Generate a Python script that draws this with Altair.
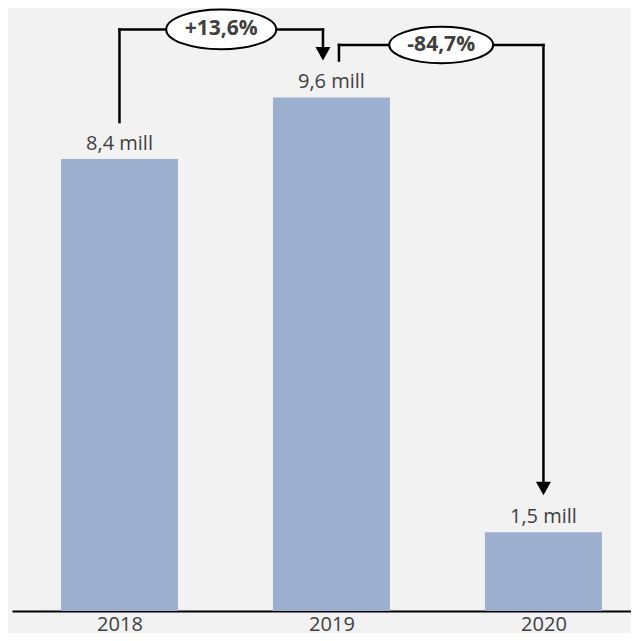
import json
import altair as alt
import pandas as pd

# ---- data ----
categories = ["2018", "2019", "2020"]
values = [8.44, 9.59, 1.47]          # million
value_labels = ["8,4 mill", "9,6 mill", "1,5 mill"]
change_labels = ["+13,6%", "-84,7%"]

# ---- styling constants ----
BG = "#F2F2F2"
BAR = "#9DAFCE"
TXT = "#404040"
FONT = "Open Sans"
GAP = 0.69          # vertical gap (data units) between bar top and bracket end
RISE1 = 1.27        # bracket 1 height above the higher bar
RISE2 = 0.98        # bracket 2 height above the higher bar
LW = 2.5

idx = list(range(len(categories)))
bars = pd.DataFrame({"i": idx, "cat": categories, "v": values, "lab": value_labels})

xscale = alt.Scale(domain=[-0.507, 2.413], nice=False, zero=False, padding=0)
yscale = alt.Scale(domain=[0, 11.26], nice=False, zero=True)
label_expr = json.dumps(categories) + "[datum.value]"

X = alt.X("i:Q", scale=xscale,
          axis=alt.Axis(values=idx, labelExpr=label_expr, title=None, grid=False,
                        ticks=False, tickSize=0, domainColor="black", domainWidth=2,
                        labelFontSize=20, labelColor=TXT, labelFont=FONT,
                        labelPadding=3))
Y = alt.Y("v:Q", scale=yscale, axis=None)

bar_layer = alt.Chart(bars).mark_bar(size=117, color=BAR).encode(x=X, y=Y)
lab_layer = alt.Chart(bars).mark_text(
    baseline="alphabetic", dy=-9, fontSize=20, color=TXT, font=FONT
).encode(x=alt.X("i:Q", scale=xscale), y=alt.Y("v:Q", scale=yscale), text="lab:N")

top1 = max(values[0], values[1]) + RISE1
top2 = max(values[1], values[2]) + RISE2


def xq(field):
    return alt.X(f"{field}:Q", scale=xscale)


def yq(field):
    return alt.Y(f"{field}:Q", scale=yscale)


def vrule(i, y_from, y_to, xoff=0.0, y2off=0.0):
    d = pd.DataFrame({"i": [i], "y1": [y_from], "y2": [y_to]})
    return alt.Chart(d).mark_rule(color="black", strokeWidth=LW, strokeCap="square",
                                  xOffset=xoff, y2Offset=y2off).encode(
        x=xq("i"), y=yq("y1"), y2=alt.Y2("y2:Q"))


def hrule(i1, i2, yv, xoff=0.0, x2off=0.0):
    d = pd.DataFrame({"i1": [i1], "i2": [i2], "y": [yv]})
    return alt.Chart(d).mark_rule(color="black", strokeWidth=LW, strokeCap="square",
                                  xOffset=xoff, x2Offset=x2off).encode(
        x=xq("i1"), x2=alt.X2("i2:Q"), y=yq("y"))


ARROW = "M -1 -1.8 L 1 -1.8 L 0 0 Z"


def arrow(i, yv, xoff=0.0):
    d = pd.DataFrame({"i": [i], "y": [yv]})
    return alt.Chart(d).mark_point(shape=ARROW, size=225, filled=True, color="black",
                                   strokeWidth=0, opacity=1, xOffset=xoff).encode(
        x=xq("i"), y=yq("y"))


def ellipse(xm, yv, text, width, ratio, xoff=0.0):
    d = pd.DataFrame({"i": [xm], "y": [yv], "t": [text]})
    shape = f"M -1 0 A 1 {ratio} 0 1 1 1 0 A 1 {ratio} 0 1 1 -1 0 Z"
    e = alt.Chart(d).mark_point(shape=shape, size=width * width, filled=False,
                                fill="white", fillOpacity=1, stroke="black",
                                strokeWidth=2, opacity=1, xOffset=xoff).encode(
        x=xq("i"), y=yq("y"))
    t = alt.Chart(d).mark_text(fontSize=21, fontWeight="bold", color=TXT, font=FONT,
                               baseline="middle", xOffset=xoff).encode(
        x=xq("i"), y=yq("y"), text="t:N")
    return e + t


L_OFF = -8.5   # bracket 1 arrives left of 2019 centre
R_OFF = 7.5    # bracket 2 leaves right of 2019 centre

layers = [
    bar_layer,
    lab_layer,
    # bracket 1: 2018 -> 2019
    vrule(0, values[0] + GAP, top1),
    hrule(0, 1, top1, x2off=L_OFF),
    vrule(1, top1, values[1] + GAP, xoff=L_OFF, y2off=-8),
    arrow(1, values[1] + GAP, xoff=L_OFF),
    ellipse(0.5, top1, change_labels[0], 110, 0.36, xoff=L_OFF / 2),
    # bracket 2: 2019 -> 2020
    vrule(1, values[1] + GAP, top2, xoff=R_OFF),
    hrule(1, 2, top2, xoff=R_OFF),
    vrule(2, top2, values[2] + GAP, y2off=-8),
    arrow(2, values[2] + GAP),
    ellipse(1.5, top2, change_labels[1], 104, 0.35, xoff=R_OFF / 2),
]

chart = alt.layer(*layers).properties(
    width=619, height=603,
    background=BG,
    autosize=alt.AutoSizeParams(type="none"),
    padding={"left": 4, "top": 0, "right": 0, "bottom": 22},
).configure_view(stroke=None)

chart.save("out.html", embed_options={"renderer": "svg", "actions": False})
